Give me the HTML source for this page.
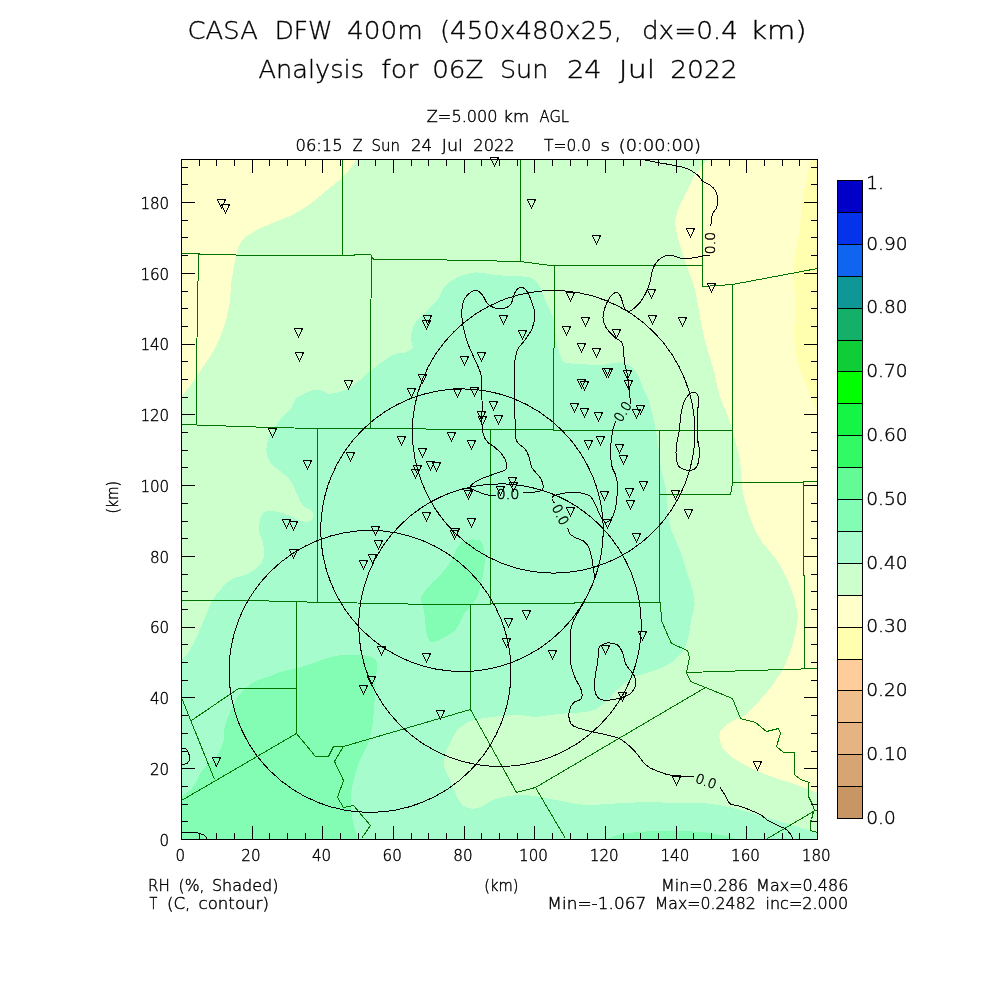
<!DOCTYPE html><html><head><meta charset="utf-8"><title>CASA DFW 400m Analysis</title>
<style>html,body{margin:0;padding:0;background:#fff}svg{display:block}text{font-family:"DejaVu Sans","Liberation Sans",sans-serif;font-weight:200;fill:#000}.s{font-size:15.1px;stroke:#000;stroke-width:.4px}.t{font-size:25.4px;stroke:#000;stroke-width:.35px}.c{font-size:14.5px;stroke:#000;stroke-width:.45px}</style></head><body>
<svg width="1000" height="1000" viewBox="0 0 1000 1000" shape-rendering="crispEdges">
<rect width="1000" height="1000" fill="#fff"/>
<defs><clipPath id="m"><rect x="181.5" y="159.5" width="636.0" height="680.0"/></clipPath></defs>
<g clip-path="url(#m)">
<rect x="181.5" y="159.5" width="636.0" height="680.0" fill="#FFFFCC"/>
<path d="M815.0,150.0C811.2,154.2 809.6,166.7 807.5,175.0C805.4,183.3 803.8,191.7 802.5,200.0C801.2,208.3 800.8,217.9 800.0,225.0C799.2,232.1 798.4,237.1 797.5,242.5C796.6,247.9 795.1,252.1 794.5,257.5C793.9,262.9 793.7,267.9 793.8,275.0C793.8,282.1 794.9,291.7 795.0,300.0C795.1,308.3 794.5,316.7 794.5,325.0C794.5,333.3 794.1,342.5 795.0,350.0C795.9,357.5 797.9,363.8 800.0,370.0C802.1,376.2 805.4,382.5 807.5,387.5C809.6,392.5 810.8,395.9 812.5,400.0C814.2,404.1 815.1,410.0 818.0,412.0C820.9,414.0 828.0,455.7 830.0,412.0C832.0,368.3 832.5,193.7 830.0,150.0C827.5,106.3 818.8,145.8 815.0,150.0Z" fill="#FFFFAF"/>
<path d="M357.0,159.0C353.7,163.5 349.5,170.2 345.0,175.0C340.5,179.8 335.8,182.7 330.0,187.5C324.2,192.3 316.7,199.2 310.0,204.0C303.3,208.8 296.7,212.7 290.0,216.0C283.3,219.3 276.2,221.2 270.0,224.0C263.8,226.8 257.1,229.8 252.5,232.5C247.9,235.2 245.0,237.1 242.5,240.0C240.0,242.9 239.0,245.4 237.5,250.0C236.0,254.6 234.8,261.7 233.8,267.5C232.7,273.3 231.6,279.6 231.0,285.0C230.4,290.4 230.8,294.2 230.0,300.0C229.2,305.8 227.7,313.8 226.0,320.0C224.3,326.2 222.2,332.1 220.0,337.5C217.8,342.9 215.4,347.5 212.5,352.5C209.6,357.5 205.8,362.5 202.5,367.5C199.2,372.5 196.1,377.6 192.5,382.5C188.9,387.4 186.4,390.8 181.0,397.0C175.6,403.2 163.5,342.8 160.0,420.0C156.5,497.2 46.7,786.7 160.0,860.0C273.3,933.3 726.7,870.0 840.0,860.0C953.3,850.0 843.8,811.2 840.0,800.0C836.2,788.8 822.4,794.4 817.0,792.5C811.6,790.6 812.0,790.4 807.5,788.8C803.0,787.1 796.2,784.6 790.0,782.5C783.8,780.4 776.7,778.8 770.0,776.2C763.3,773.8 756.2,770.6 750.0,767.5C743.8,764.4 737.1,760.8 732.5,757.5C727.9,754.2 724.7,750.8 722.5,747.5C720.3,744.2 719.7,740.4 719.5,737.5C719.3,734.6 719.5,732.5 721.2,730.0C723.0,727.5 726.0,725.0 730.0,722.5C734.0,720.0 740.0,718.8 745.0,715.0C750.0,711.2 755.4,705.0 760.0,700.0C764.6,695.0 768.8,690.0 772.5,685.0C776.2,680.0 779.6,675.4 782.5,670.0C785.4,664.6 787.9,658.3 790.0,652.5C792.1,646.7 793.8,640.4 795.0,635.0C796.2,629.6 797.1,623.8 797.5,620.0C797.9,616.2 798.3,617.1 797.5,612.5C796.7,607.9 794.6,598.8 792.5,592.5C790.4,586.2 787.9,580.8 785.0,575.0C782.1,569.2 778.8,562.9 775.0,557.5C771.2,552.1 766.0,547.5 762.5,542.5C759.0,537.5 756.2,532.9 753.8,527.5C751.2,522.1 749.4,516.2 747.5,510.0C745.6,503.8 743.5,495.8 742.5,490.0C741.5,484.2 741.7,480.0 741.2,475.0C740.8,470.0 740.8,465.0 740.0,460.0C739.2,455.0 737.5,450.0 736.2,445.0C735.0,440.0 734.0,435.0 732.5,430.0C731.0,425.0 729.4,420.0 727.5,415.0C725.6,410.0 722.9,404.6 721.2,400.0C719.6,395.4 718.8,392.5 717.5,387.5C716.2,382.5 715.4,376.2 713.8,370.0C712.1,363.8 709.4,356.7 707.5,350.0C705.6,343.3 704.0,336.7 702.5,330.0C701.0,323.3 700.0,316.7 698.8,310.0C697.5,303.3 696.5,295.8 695.0,290.0C693.5,284.2 691.7,280.0 690.0,275.0C688.3,270.0 686.7,265.0 685.0,260.0C683.3,255.0 681.5,250.0 680.0,245.0C678.5,240.0 676.7,234.6 676.0,230.0C675.3,225.4 675.1,221.7 675.8,217.5C676.4,213.3 678.0,209.6 680.0,205.0C682.0,200.4 685.0,195.0 687.5,190.0C690.0,185.0 692.5,179.2 695.0,175.0C697.5,170.8 700.2,167.7 702.5,165.0C704.8,162.3 706.5,161.8 708.8,159.0C711.0,156.2 744.1,151.2 716.0,148.0C687.9,144.8 598.5,140.0 540.0,140.0C481.5,140.0 395.5,144.8 365.0,148.0C334.5,151.2 360.3,154.5 357.0,159.0Z" fill="#CCFFCC"/>
<path d="M181.0,661.0C186.0,656.0 187.2,654.3 190.0,650.0C192.8,645.7 195.0,640.4 197.5,635.0C200.0,629.6 202.5,623.3 205.0,617.5C207.5,611.7 209.6,605.0 212.5,600.0C215.4,595.0 219.2,591.0 222.5,587.5C225.8,584.0 228.8,580.8 232.5,578.8C236.2,576.7 240.8,576.9 245.0,575.0C249.2,573.1 254.4,570.4 257.5,567.5C260.6,564.6 262.8,561.7 263.8,557.5C264.7,553.3 263.7,546.7 263.0,542.5C262.3,538.3 260.0,536.2 259.5,532.5C259.0,528.8 259.1,523.5 260.0,520.0C260.9,516.5 262.1,513.1 265.0,511.8C267.9,510.4 273.3,511.0 277.5,511.8C281.7,512.5 286.2,514.5 290.0,516.0C293.8,517.5 296.7,520.2 300.0,521.0C303.3,521.8 307.7,522.0 310.0,521.0C312.3,520.0 313.6,516.8 313.8,515.0C313.9,513.2 312.9,511.7 311.0,510.0C309.1,508.3 304.8,507.5 302.5,505.0C300.2,502.5 299.6,499.2 297.5,495.0C295.4,490.8 292.9,484.0 290.0,480.0C287.1,476.0 283.3,473.9 280.0,471.0C276.7,468.1 272.3,466.0 270.0,462.5C267.7,459.0 266.2,454.6 266.2,450.0C266.2,445.4 267.7,440.0 270.0,435.0C272.3,430.0 276.7,424.2 280.0,420.0C283.3,415.8 287.5,413.3 290.0,410.0C292.5,406.7 293.3,402.3 295.0,400.0C296.7,397.7 297.5,397.5 300.0,396.0C302.5,394.5 306.7,392.0 310.0,391.0C313.3,390.0 316.7,389.5 320.0,390.0C323.3,390.5 325.8,393.8 330.0,393.8C334.2,393.8 340.0,392.3 345.0,390.0C350.0,387.7 355.8,383.2 360.0,380.0C364.2,376.8 365.8,374.3 370.0,371.0C374.2,367.7 380.8,362.9 385.0,360.0C389.2,357.1 391.7,355.0 395.0,353.8C398.3,352.5 402.1,353.5 405.0,352.5C407.9,351.5 411.5,349.6 412.5,347.5C413.5,345.4 411.1,342.9 411.0,340.0C410.9,337.1 411.2,333.0 412.0,330.0C412.8,327.0 413.8,324.9 416.0,322.0C418.2,319.1 421.4,316.2 425.0,312.5C428.6,308.8 434.2,304.4 437.5,300.0C440.8,295.6 441.7,289.8 445.0,286.0C448.3,282.2 452.5,279.8 457.5,277.5C462.5,275.2 468.8,272.9 475.0,272.5C481.2,272.1 489.2,274.4 495.0,275.0C500.8,275.6 504.2,275.6 510.0,276.0C515.8,276.4 525.2,276.0 530.0,277.5C534.8,279.0 536.2,281.2 538.8,285.0C541.2,288.8 543.1,295.8 545.0,300.0C546.9,304.2 548.4,306.2 550.0,310.0C551.6,313.8 553.5,317.5 554.5,322.5C555.5,327.5 555.1,334.6 556.0,340.0C556.9,345.4 558.5,351.2 560.0,355.0C561.5,358.8 561.7,361.0 565.0,362.5C568.3,364.0 574.2,363.3 580.0,363.8C585.8,364.2 593.3,365.2 600.0,365.0C606.7,364.8 614.6,362.1 620.0,362.5C625.4,362.9 629.2,364.6 632.5,367.5C635.8,370.4 638.1,376.2 640.0,380.0C641.9,383.8 642.4,387.0 643.8,390.0C645.1,393.0 646.5,393.8 648.0,398.0C649.5,402.2 651.1,409.2 652.5,415.0C653.9,420.8 655.2,426.7 656.2,432.5C657.3,438.3 657.9,443.8 658.8,450.0C659.6,456.2 660.0,463.3 661.2,470.0C662.5,476.7 665.2,483.3 666.2,490.0C667.3,496.7 666.7,503.3 667.5,510.0C668.3,516.7 669.2,523.3 671.2,530.0C673.3,536.7 677.5,543.3 680.0,550.0C682.5,556.7 684.2,563.3 686.2,570.0C688.3,576.7 691.1,584.2 692.5,590.0C693.9,595.8 694.7,600.0 694.5,605.0C694.3,610.0 692.2,615.0 691.2,620.0C690.3,625.0 689.8,630.4 688.8,635.0C687.7,639.6 686.9,643.8 685.0,647.5C683.1,651.2 680.8,654.4 677.5,657.5C674.2,660.6 669.9,663.8 665.0,666.2C660.1,668.8 653.3,670.6 648.0,672.5C642.7,674.4 638.0,674.8 633.0,677.5C628.0,680.2 623.0,684.6 618.0,689.0C613.0,693.4 607.7,700.3 603.0,704.0C598.3,707.7 595.5,709.8 590.0,711.2C584.5,712.8 576.7,712.4 570.0,713.0C563.3,713.6 555.8,714.3 550.0,715.0C544.2,715.7 540.0,717.0 535.0,717.0C530.0,717.0 525.8,715.1 520.0,715.0C514.2,714.9 506.7,715.6 500.0,716.2C493.3,716.9 485.4,717.7 480.0,718.8C474.6,719.8 471.2,720.6 467.5,722.5C463.8,724.4 460.4,726.7 457.5,730.0C454.6,733.3 452.1,738.3 450.0,742.5C447.9,746.7 445.9,750.8 445.0,755.0C444.1,759.2 443.7,763.3 444.5,767.5C445.3,771.7 448.0,775.4 450.0,780.0C452.0,784.6 454.2,790.8 456.2,795.0C458.3,799.2 459.8,802.7 462.5,805.0C465.2,807.3 469.2,808.5 472.5,808.8C475.8,809.0 479.2,807.7 482.5,806.2C485.8,804.8 488.3,801.7 492.5,800.0C496.7,798.3 502.1,797.1 507.5,796.2C512.9,795.4 519.2,794.8 525.0,795.0C530.8,795.2 536.2,796.5 542.5,797.5C548.8,798.5 555.4,800.0 562.5,801.2C569.6,802.5 577.1,804.6 585.0,805.0C592.9,805.4 601.7,804.2 610.0,803.8C618.3,803.3 626.2,802.7 635.0,802.5C643.8,802.3 651.7,802.4 662.5,802.5C673.3,802.6 689.6,802.4 700.0,803.0C710.4,803.6 716.7,804.7 725.0,806.2C733.3,807.8 741.7,810.2 750.0,812.5C758.3,814.8 766.7,817.5 775.0,820.0C783.3,822.5 793.0,825.4 800.0,827.5C807.0,829.6 810.3,830.8 817.0,832.5C823.7,834.2 836.2,833.4 840.0,838.0C843.8,842.6 953.3,856.3 840.0,860.0C726.7,863.7 273.3,890.0 160.0,860.0C46.7,830.0 156.5,713.2 160.0,680.0C163.5,646.8 176.0,666.0 181.0,661.0Z" fill="#A6FCCC"/>
<path d="M466.2,540.0C469.4,539.4 476.0,539.2 478.8,540.0C481.5,540.8 482.0,541.7 483.0,545.0C484.0,548.3 485.1,554.6 485.0,560.0C484.9,565.4 483.5,572.1 482.5,577.5C481.5,582.9 480.2,588.3 478.8,592.5C477.3,596.7 476.0,599.2 473.8,602.5C471.5,605.8 467.5,608.8 465.0,612.5C462.5,616.2 460.8,621.7 458.8,625.0C456.7,628.3 455.4,630.2 452.5,632.5C449.6,634.8 444.4,637.2 441.2,638.8C438.1,640.3 435.8,641.7 433.8,641.9C431.7,642.1 430.0,641.8 428.8,640.0C427.5,638.2 426.9,634.8 426.2,631.2C425.6,627.7 425.5,622.9 425.0,618.8C424.5,614.6 423.7,609.4 423.0,606.2C422.3,603.1 420.5,602.3 420.6,600.0C420.7,597.7 421.8,595.4 423.8,592.5C425.7,589.6 429.4,585.8 432.5,582.5C435.6,579.2 439.6,575.8 442.5,572.5C445.4,569.2 447.9,565.8 450.0,562.5C452.1,559.2 453.3,555.6 455.0,552.5C456.7,549.4 458.1,545.8 460.0,543.8C461.9,541.7 463.1,540.6 466.2,540.0Z" fill="#82FDB3"/>
<path d="M181.0,797.0C186.4,792.4 188.9,792.0 192.5,787.5C196.1,783.0 198.3,775.4 202.5,770.0C206.7,764.6 214.0,760.0 217.5,755.0C221.0,750.0 222.5,745.0 223.8,740.0C225.0,735.0 223.8,730.0 225.0,725.0C226.2,720.0 229.2,714.6 231.2,710.0C233.3,705.4 235.2,701.0 237.5,697.5C239.8,694.0 242.1,691.5 245.0,688.8C247.9,686.0 250.8,683.3 255.0,681.2C259.2,679.2 265.4,677.9 270.0,676.2C274.6,674.6 277.5,672.7 282.5,671.2C287.5,669.8 294.6,669.0 300.0,667.5C305.4,666.0 310.0,664.2 315.0,662.5C320.0,660.8 325.0,658.2 330.0,657.0C335.0,655.8 340.0,655.3 345.0,655.0C350.0,654.7 355.4,654.6 360.0,655.0C364.6,655.4 369.7,655.8 372.5,657.5C375.3,659.2 376.5,660.8 377.0,665.0C377.5,669.2 375.9,676.2 375.5,682.5C375.1,688.8 375.0,695.4 374.5,702.5C374.0,709.6 373.7,717.9 372.5,725.0C371.3,732.1 369.6,739.2 367.5,745.0C365.4,750.8 362.1,755.0 360.0,760.0C357.9,765.0 356.5,769.6 355.0,775.0C353.5,780.4 351.9,786.7 351.2,792.5C350.6,798.3 350.8,804.6 351.2,810.0C351.7,815.4 352.7,820.1 353.8,825.0C354.8,829.9 356.5,833.7 357.5,839.5C358.5,845.3 392.9,856.6 360.0,860.0C327.1,863.4 193.3,867.5 160.0,860.0C126.7,852.5 156.5,825.5 160.0,815.0C163.5,804.5 175.6,801.6 181.0,797.0Z" fill="#82FDB3"/>
<path d="M608.0,838.5C612.8,836.9 615.9,834.8 625.0,833.5C634.1,832.2 650.0,831.0 662.5,830.8C675.0,830.5 690.4,831.3 700.0,832.0C709.6,832.7 714.2,833.8 720.0,835.0C725.8,836.2 731.7,835.3 735.0,839.5C738.3,843.7 764.2,856.6 740.0,860.0C715.8,863.4 614.0,862.8 590.0,860.0C566.0,857.2 593.0,846.6 596.0,843.0C599.0,839.4 603.2,840.1 608.0,838.5Z" fill="#82FDB3"/>
<g fill="none" stroke="#007200" stroke-width="1">
<path d="M342.5,159.5 L342.5,255.5"/>
<path d="M181.5,253.5 L198.5,253.5 L200.5,254.5 L271.5,255.5 L353.5,255.5 L355.5,254.5 L370.5,254.5 L372.5,257.5 L373.5,259.5 L420.5,259.5 L472.5,260.5 L520.5,261.5 L550.5,265.5 L554.5,265.5 L650.5,265.5 L702.5,265.5"/>
<path d="M198.5,253.5 L197.5,310.5 L196.5,367.5 L196.5,424.5"/>
<path d="M371.5,257.5 L370.5,342.5 L370.5,428.5"/>
<path d="M520.5,159.5 L520.5,261.5"/>
<path d="M554.5,265.5 L554.5,347.5 L553.5,348.5 L553.5,430.5"/>
<path d="M702.5,159.5 L702.5,286.5 L732.5,284.5 L817.5,268.5"/>
<path d="M732.5,284.5 L732.5,482.5"/>
<path d="M181.5,424.5 L270.5,427.5 L317.5,428.5 L370.5,428.5 L420.5,428.5 L430.5,429.5 L431.5,429.5 L490.5,429.5 L553.5,429.5 L554.5,430.5 L659.5,430.5 L732.5,430.5"/>
<path d="M317.5,428.5 L317.5,602.5"/>
<path d="M181.5,600.5 L240.5,600.5 L296.5,601.5 L317.5,602.5 L395.5,603.5 L420.5,604.5 L470.5,604.5 L490.5,604.5 L490.5,603.5 L574.5,603.5 L574.5,602.5 L659.5,602.5"/>
<path d="M296.5,601.5 L296.5,733.5"/>
<path d="M490.5,429.5 L490.5,603.5"/>
<path d="M470.5,604.5 L470.5,709.5"/>
<path d="M659.5,430.5 L659.5,602.5 L660.5,602.5 L661.5,620.5 L666.5,632.5 L671.5,643.5 L687.5,650.5 L689.5,657.5 L686.5,672.5 L690.5,681.5 L705.5,687.5 L732.5,698.5 L740.5,718.5 L755.5,722.5 L766.5,731.5 L778.5,728.5 L780.5,733.5 L776.5,746.5 L783.5,752.5 L794.5,752.5 L794.5,774.5 L800.5,779.5 L809.5,782.5 L808.5,783.5 L808.5,796.5 L812.5,804.5 L814.5,810.5 L817.5,810.5"/>
<path d="M659.5,494.5 L730.5,494.5 L731.5,490.5 L732.5,482.5"/>
<path d="M732.5,482.5 L802.5,482.5 L803.5,481.5 L817.5,481.5"/>
<path d="M803.5,481.5 L803.5,575.5 L804.5,575.5 L804.5,668.5"/>
<path d="M686.5,672.5 L817.5,668.5"/>
<path d="M535.5,787.5 L705.5,687.5"/>
<path d="M470.5,709.5 L516.5,792.5 L535.5,787.5 L565.5,838.5"/>
<path d="M470.5,709.5 L343.5,746.5"/>
<path d="M296.5,733.5 L315.5,756.5 L328.5,756.5 L333.5,746.5 L343.5,746.5 L334.5,761.5 L343.5,780.5 L337.5,797.5 L343.5,807.5 L353.5,805.5 L370.5,825.5 L361.5,838.5"/>
<path d="M296.5,688.5 L238.5,688.5 L191.5,720.5"/>
<path d="M181.5,697.5 L214.5,779.5"/>
<path d="M296.5,733.5 L181.5,800.5"/>
<path d="M813.5,811.5 L767.5,838.5"/>
<path d="M813.5,811.5 L811.5,819.5 L810.5,821.5 L810.5,830.5 L817.5,832.5"/>
</g>
<g fill="none" stroke="#000" stroke-width="1">
<circle cx="553.7" cy="431.8" r="141.3"/>
<circle cx="462" cy="530.2" r="141.3"/>
<circle cx="500" cy="625.2" r="141.3"/>
<circle cx="370" cy="671.4" r="141.0"/>
<path d="M495.6,495.5C494.5,495.5 491.1,495.7 488.8,495.2C486.4,494.8 483.8,493.9 481.2,493.0C478.8,492.1 475.6,490.9 473.8,490.0C471.9,489.1 470.0,488.7 470.0,487.5C470.0,486.3 471.9,484.5 473.8,483.0C475.6,481.5 477.7,480.3 481.2,478.8C484.8,477.2 490.9,475.3 495.0,473.8C499.1,472.2 503.7,471.3 505.6,469.4C507.5,467.5 506.8,464.9 506.2,462.5C505.7,460.1 504.4,457.5 502.5,455.0C500.6,452.5 497.5,449.7 495.0,447.5C492.5,445.3 489.4,444.1 487.5,442.0C485.6,439.9 484.4,437.8 483.5,435.0C482.6,432.2 482.2,430.8 482.0,425.0C481.8,419.2 482.2,408.3 482.0,400.0C481.8,391.7 482.2,381.7 481.0,375.0C479.8,368.3 477.2,365.4 475.0,360.0C472.8,354.6 469.6,348.8 467.5,342.5C465.4,336.2 463.3,328.8 462.5,322.5C461.7,316.2 461.7,309.6 462.5,305.0C463.3,300.4 465.2,297.4 467.5,295.0C469.8,292.6 473.5,290.5 476.0,290.5C478.5,290.5 480.6,292.8 482.5,295.0C484.4,297.2 485.4,301.6 487.5,303.8C489.6,305.9 492.1,307.3 495.0,308.0C497.9,308.7 502.3,308.7 505.0,308.0C507.7,307.3 509.3,306.3 511.0,303.8C512.7,301.2 513.5,295.2 515.0,292.5C516.5,289.8 518.2,287.9 520.0,287.5C521.8,287.1 524.2,287.9 526.0,290.0C527.8,292.1 529.6,296.2 531.0,300.0C532.4,303.8 534.2,307.9 534.5,312.5C534.8,317.1 534.1,322.9 532.5,327.5C530.9,332.1 527.5,336.2 525.0,340.0C522.5,343.8 519.2,345.8 517.5,350.0C515.8,354.2 515.0,356.7 514.5,365.0C514.0,373.3 514.4,391.0 514.5,400.0C514.6,409.0 514.8,412.5 515.0,418.8C515.2,425.0 515.0,433.3 515.6,437.5C516.2,441.7 517.2,441.8 518.8,443.8C520.3,445.7 523.3,446.9 525.0,449.0C526.7,451.1 527.6,453.2 528.8,456.2C529.9,459.3 529.8,463.6 531.9,467.5C534.0,471.4 539.5,475.8 541.2,479.4C543.0,483.0 543.8,487.3 542.5,489.4C541.2,491.5 537.0,491.7 533.8,492.2C530.5,492.8 524.8,492.5 523.0,492.5"/>
<path d="M554.4,503.0C554.0,502.2 551.7,499.3 551.9,498.0C552.1,496.7 552.8,495.9 555.6,495.0C558.4,494.1 564.7,492.9 568.8,492.5C572.8,492.1 576.5,492.1 580.0,492.8C583.5,493.4 587.5,494.4 590.0,496.2C592.5,498.1 593.3,500.6 595.0,503.8C596.7,506.9 598.3,512.0 600.0,515.0C601.7,518.0 603.1,521.4 605.0,522.0C606.9,522.6 609.6,520.8 611.2,518.8C612.9,516.8 614.1,513.5 615.0,510.0C615.9,506.5 616.5,501.7 616.9,497.5C617.3,493.3 617.7,488.8 617.5,485.0C617.3,481.2 616.5,478.1 615.6,475.0C614.7,471.9 612.7,470.4 611.9,466.2C611.1,462.1 610.5,455.8 610.6,450.0C610.7,444.2 611.7,436.0 612.5,431.2C613.3,426.5 615.1,422.9 615.6,421.2"/>
<path d="M630.6,403.8C630.5,402.7 630.5,402.3 630.0,397.5C629.5,392.7 628.4,380.8 627.5,375.0C626.6,369.2 625.3,367.7 624.5,362.5C623.7,357.3 624.1,347.9 622.5,343.8C620.9,339.6 617.8,340.2 615.0,337.5C612.2,334.8 608.0,330.8 606.0,327.5C604.0,324.2 603.2,320.8 603.0,317.5C602.8,314.2 603.7,311.1 605.0,307.5C606.3,303.9 608.9,298.5 611.0,296.0C613.1,293.5 615.8,292.2 617.5,292.5C619.2,292.8 619.8,294.8 621.0,297.5C622.2,300.2 623.5,306.5 625.0,308.8C626.5,311.0 627.5,312.0 630.0,311.0C632.5,310.0 637.3,305.6 640.0,302.5C642.7,299.4 644.3,295.8 646.0,292.5C647.7,289.2 648.9,286.2 650.0,282.5C651.1,278.8 651.2,273.6 652.5,270.0C653.8,266.4 655.4,263.3 657.5,261.0C659.6,258.7 662.5,256.9 665.0,256.0C667.5,255.1 670.0,255.2 672.5,255.5C675.0,255.8 676.7,257.6 680.0,258.0C683.3,258.4 688.8,258.3 692.5,258.0C696.2,257.7 699.6,256.5 702.5,256.0C705.4,255.5 708.8,255.2 710.0,255.0"/>
<path d="M710.8,226.0C711.0,224.0 711.6,216.6 712.5,213.8C713.4,210.9 715.1,211.0 716.0,208.8C716.9,206.5 718.1,203.0 718.0,200.0C717.9,197.0 716.8,193.5 715.5,191.0C714.2,188.5 712.2,186.7 710.0,185.0C707.8,183.3 704.6,182.7 702.5,181.0C700.4,179.3 700.0,177.0 697.5,175.0C695.0,173.0 691.2,170.3 687.5,168.8C683.8,167.2 680.0,166.5 675.0,165.5C670.0,164.5 662.5,163.4 657.5,162.5C652.5,161.6 648.6,160.9 645.0,160.0C641.4,159.1 637.5,157.5 636.0,157.0"/>
<path d="M567.5,528.0C567.9,529.0 568.8,532.2 570.0,533.8C571.2,535.3 572.7,536.2 575.0,537.5C577.3,538.8 581.5,539.6 583.8,541.2C586.0,542.9 587.4,544.6 588.8,547.5C590.1,550.4 591.1,555.0 591.9,558.8C592.7,562.5 593.1,566.7 593.5,570.0C593.9,573.3 594.8,575.8 594.4,578.8C594.0,581.7 592.8,584.0 591.2,587.5C589.7,591.0 587.1,596.0 585.0,600.0C582.9,604.0 580.6,607.9 578.8,611.2C576.9,614.6 575.0,617.3 573.8,620.0C572.5,622.7 571.8,624.6 571.2,627.5C570.7,630.4 570.4,631.7 570.2,637.5C570.1,643.3 569.7,655.8 570.5,662.5C571.3,669.2 573.2,672.9 575.0,677.5C576.8,682.1 580.2,686.5 581.2,690.0C582.3,693.5 582.5,696.7 581.2,698.8C580.0,700.8 575.7,700.6 573.8,702.5C571.8,704.4 570.2,707.1 569.5,710.0C568.8,712.9 568.8,717.3 569.5,720.0C570.2,722.7 570.3,724.4 573.8,726.2C577.2,728.1 584.8,729.9 590.0,731.2C595.2,732.6 599.8,733.1 605.0,734.5C610.2,735.9 616.2,736.8 621.0,739.5C625.8,742.2 629.8,746.2 634.0,750.5C638.2,754.8 642.1,761.5 646.0,765.0C649.9,768.5 653.1,769.5 657.5,771.2C661.9,773.0 666.5,774.7 672.5,775.5C678.5,776.3 690.2,776.1 693.8,776.2"/>
<path d="M720.0,787.5C720.8,788.8 723.3,792.3 725.0,795.0C726.7,797.7 727.5,801.9 730.0,803.8C732.5,805.6 735.0,804.5 740.0,806.2C745.0,808.0 755.5,812.2 760.0,814.5C764.5,816.8 763.9,818.0 767.2,820.0C770.5,822.0 776.8,824.8 780.0,826.4C783.2,828.0 784.4,827.9 786.4,829.6C788.4,831.3 791.0,834.7 792.0,836.8C793.0,838.9 792.2,841.1 792.3,842.0"/>
<path d="M693.6,392.0C692.3,392.2 690.3,393.5 688.8,394.8C687.3,396.1 685.9,397.9 684.8,400.0C683.7,402.1 683.1,404.7 682.4,407.2C681.7,409.7 681.2,412.5 680.8,415.2C680.4,417.9 680.3,420.5 680.0,423.2C679.7,425.9 679.8,427.3 679.2,431.2C678.6,435.1 676.9,441.9 676.4,446.4C675.9,450.9 675.9,454.7 676.3,458.0C676.7,461.3 677.1,464.2 678.8,466.2C680.4,468.2 683.5,469.6 686.2,470.0C689.0,470.4 692.9,470.4 695.0,468.8C697.1,467.1 698.1,464.4 698.8,460.0C699.4,455.6 699.0,445.7 698.8,442.4C698.6,439.1 697.7,445.4 697.5,440.0C697.3,434.6 697.2,415.5 697.4,410.0C697.6,404.5 698.6,409.1 698.8,407.0C699.0,404.9 698.8,399.4 698.4,397.2C698.0,394.9 697.3,394.4 696.5,393.5C695.7,392.6 694.9,391.8 693.6,392.0Z"/>
<path d="M600.0,646.2C601.5,645.1 604.6,643.2 607.5,643.0C610.4,642.8 615.0,643.4 617.5,645.0C620.0,646.6 621.0,649.2 622.5,652.5C624.0,655.8 624.4,661.2 626.2,665.0C628.1,668.8 632.2,671.7 633.8,675.0C635.3,678.3 636.1,681.9 635.5,685.0C634.9,688.1 633.0,691.5 630.0,693.8C627.0,696.0 622.1,697.7 617.5,698.8C612.9,699.8 606.0,700.6 602.5,700.0C599.0,699.4 597.6,697.9 596.2,695.0C594.9,692.1 594.3,687.9 594.5,682.5C594.7,677.1 596.8,667.9 597.5,662.5C598.2,657.1 598.3,652.7 598.8,650.0C599.2,647.3 598.5,647.4 600.0,646.2Z"/>
<path d="M181.0,747.8C181.9,748.1 185.1,748.0 186.5,749.5C187.9,751.0 189.3,754.2 189.5,756.5C189.7,758.8 188.9,761.6 187.5,763.0C186.1,764.4 182.1,764.7 181.0,765.0"/>
<path d="M181.0,832.5C183.3,832.5 191.2,832.1 195.0,832.5C198.8,832.9 201.7,833.8 203.8,835.0C205.8,836.2 206.9,838.8 207.5,839.5"/>
</g>
</g>
<g fill="none" stroke="#000" stroke-width="1" stroke-linejoin="bevel">
<path d="M217.5,199.5h8l-4.0,9zM221.5,204.5h8l-4.0,9zM294.5,328.5h8l-4.0,9zM295.5,352.5h8l-4.0,9zM344.5,380.5h8l-4.0,9zM490.5,157.5h8l-4.0,9zM527.5,199.5h8l-4.0,9zM592.5,235.5h8l-4.0,9zM566.5,292.5h8l-4.0,9zM423.5,315.5h8l-4.0,9zM422.5,320.5h8l-4.0,9zM499.5,315.5h8l-4.0,9zM581.5,317.5h8l-4.0,9zM562.5,326.5h8l-4.0,9zM612.5,329.5h8l-4.0,9zM518.5,330.5h8l-4.0,9zM577.5,343.5h8l-4.0,9zM592.5,348.5h8l-4.0,9zM477.5,352.5h8l-4.0,9zM460.5,356.5h8l-4.0,9zM604.5,368.5h8l-4.0,9zM602.5,368.5h8l-4.0,9zM623.5,370.5h8l-4.0,9zM418.5,374.5h8l-4.0,9zM577.5,379.5h8l-4.0,9zM580.5,381.5h8l-4.0,9zM624.5,380.5h8l-4.0,9zM407.5,388.5h8l-4.0,9zM453.5,388.5h8l-4.0,9zM470.5,387.5h8l-4.0,9zM686.5,228.5h8l-4.0,9zM707.5,283.5h8l-4.0,9zM647.5,289.5h8l-4.0,9zM648.5,315.5h8l-4.0,9zM678.5,317.5h8l-4.0,9zM268.5,428.5h8l-4.0,9zM397.5,436.5h8l-4.0,9zM346.5,452.5h8l-4.0,9zM303.5,460.5h8l-4.0,9zM282.5,519.5h8l-4.0,9zM289.5,521.5h8l-4.0,9zM371.5,526.5h8l-4.0,9zM374.5,540.5h8l-4.0,9zM289.5,549.5h8l-4.0,9zM368.5,554.5h8l-4.0,9zM359.5,560.5h8l-4.0,9zM377.5,646.5h8l-4.0,9zM489.5,401.5h8l-4.0,9zM477.5,411.5h8l-4.0,9zM478.5,416.5h8l-4.0,9zM494.5,415.5h8l-4.0,9zM447.5,432.5h8l-4.0,9zM467.5,440.5h8l-4.0,9zM418.5,448.5h8l-4.0,9zM426.5,461.5h8l-4.0,9zM432.5,462.5h8l-4.0,9zM413.5,465.5h8l-4.0,9zM411.5,469.5h8l-4.0,9zM463.5,488.5h8l-4.0,9zM464.5,490.5h8l-4.0,9zM508.5,477.5h8l-4.0,9zM509.5,482.5h8l-4.0,9zM496.5,486.5h8l-4.0,9zM422.5,512.5h8l-4.0,9zM467.5,518.5h8l-4.0,9zM570.5,403.5h8l-4.0,9zM580.5,408.5h8l-4.0,9zM594.5,412.5h8l-4.0,9zM636.5,405.5h8l-4.0,9zM632.5,409.5h8l-4.0,9zM596.5,436.5h8l-4.0,9zM584.5,440.5h8l-4.0,9zM615.5,444.5h8l-4.0,9zM619.5,455.5h8l-4.0,9zM639.5,481.5h8l-4.0,9zM625.5,488.5h8l-4.0,9zM600.5,491.5h8l-4.0,9zM626.5,500.5h8l-4.0,9zM566.5,507.5h8l-4.0,9zM603.5,519.5h8l-4.0,9zM451.5,528.5h8l-4.0,9zM450.5,530.5h8l-4.0,9zM504.5,618.5h8l-4.0,9zM502.5,638.5h8l-4.0,9zM632.5,533.5h8l-4.0,9zM522.5,610.5h8l-4.0,9zM638.5,631.5h8l-4.0,9zM601.5,645.5h8l-4.0,9zM671.5,490.5h8l-4.0,9zM684.5,509.5h8l-4.0,9zM367.5,676.5h8l-4.0,9zM359.5,685.5h8l-4.0,9zM212.5,757.5h8l-4.0,9zM422.5,653.5h8l-4.0,9zM548.5,650.5h8l-4.0,9zM618.5,692.5h8l-4.0,9zM436.5,710.5h8l-4.0,9zM753.5,761.5h8l-4.0,9zM672.5,776.5h8l-4.0,9z"/>
</g>
<text class="c" style="font-size:14.5px" x="508" y="494.3" text-anchor="middle" transform="rotate(0 508 494.3)" dy="4.8">0.0</text>
<text class="c" style="font-size:13.3px" x="560.3" y="514.8" text-anchor="middle" transform="rotate(63 560.3 514.8)" dy="4.4">0.0</text>
<text class="c" style="font-size:13.3px" x="623" y="411.8" text-anchor="middle" transform="rotate(-58 623 411.8)" dy="4.4">0.0</text>
<text class="c" style="font-size:14px" x="710.5" y="243" text-anchor="middle" transform="rotate(-90 710.5 243)" dy="4.6">0.0</text>
<text class="c" style="font-size:13.3px" x="706" y="781.5" text-anchor="middle" transform="rotate(20 706 781.5)" dy="4.4">0.0</text>
<g fill="none" stroke="#000" stroke-width="1">
<rect x="181.5" y="159.5" width="636.0" height="680.0"/>
</g>
<path d="M199.2,839.5v-6.5M199.2,159.5v6.5M216.8,839.5v-6.5M216.8,159.5v6.5M234.5,839.5v-6.5M234.5,159.5v6.5M252.2,839.5v-13.5M252.2,159.5v13.5M269.8,839.5v-6.5M269.8,159.5v6.5M287.5,839.5v-6.5M287.5,159.5v6.5M305.2,839.5v-6.5M305.2,159.5v6.5M322.8,839.5v-13.5M322.8,159.5v13.5M340.5,839.5v-6.5M340.5,159.5v6.5M358.2,839.5v-6.5M358.2,159.5v6.5M375.8,839.5v-6.5M375.8,159.5v6.5M393.5,839.5v-13.5M393.5,159.5v13.5M411.2,839.5v-6.5M411.2,159.5v6.5M428.8,839.5v-6.5M428.8,159.5v6.5M446.5,839.5v-6.5M446.5,159.5v6.5M464.2,839.5v-13.5M464.2,159.5v13.5M481.8,839.5v-6.5M481.8,159.5v6.5M499.5,839.5v-6.5M499.5,159.5v6.5M517.2,839.5v-6.5M517.2,159.5v6.5M534.8,839.5v-13.5M534.8,159.5v13.5M552.5,839.5v-6.5M552.5,159.5v6.5M570.2,839.5v-6.5M570.2,159.5v6.5M587.8,839.5v-6.5M587.8,159.5v6.5M605.5,839.5v-13.5M605.5,159.5v13.5M623.2,839.5v-6.5M623.2,159.5v6.5M640.8,839.5v-6.5M640.8,159.5v6.5M658.5,839.5v-6.5M658.5,159.5v6.5M676.2,839.5v-13.5M676.2,159.5v13.5M693.8,839.5v-6.5M693.8,159.5v6.5M711.5,839.5v-6.5M711.5,159.5v6.5M729.2,839.5v-6.5M729.2,159.5v6.5M746.8,839.5v-13.5M746.8,159.5v13.5M764.5,839.5v-6.5M764.5,159.5v6.5M782.2,839.5v-6.5M782.2,159.5v6.5M799.8,839.5v-6.5M799.8,159.5v6.5M181.5,821.8h6.5M817.5,821.8h-6.5M181.5,804.1h6.5M817.5,804.1h-6.5M181.5,786.4h6.5M817.5,786.4h-6.5M181.5,768.7h13.5M817.5,768.7h-13.5M181.5,751.0h6.5M817.5,751.0h-6.5M181.5,733.3h6.5M817.5,733.3h-6.5M181.5,715.6h6.5M817.5,715.6h-6.5M181.5,697.9h13.5M817.5,697.9h-13.5M181.5,680.2h6.5M817.5,680.2h-6.5M181.5,662.6h6.5M817.5,662.6h-6.5M181.5,644.9h6.5M817.5,644.9h-6.5M181.5,627.2h13.5M817.5,627.2h-13.5M181.5,609.5h6.5M817.5,609.5h-6.5M181.5,591.8h6.5M817.5,591.8h-6.5M181.5,574.1h6.5M817.5,574.1h-6.5M181.5,556.4h13.5M817.5,556.4h-13.5M181.5,538.7h6.5M817.5,538.7h-6.5M181.5,521.0h6.5M817.5,521.0h-6.5M181.5,503.3h6.5M817.5,503.3h-6.5M181.5,485.6h13.5M817.5,485.6h-13.5M181.5,467.9h6.5M817.5,467.9h-6.5M181.5,450.2h6.5M817.5,450.2h-6.5M181.5,432.5h6.5M817.5,432.5h-6.5M181.5,414.8h13.5M817.5,414.8h-13.5M181.5,397.1h6.5M817.5,397.1h-6.5M181.5,379.4h6.5M817.5,379.4h-6.5M181.5,361.8h6.5M817.5,361.8h-6.5M181.5,344.1h13.5M817.5,344.1h-13.5M181.5,326.4h6.5M817.5,326.4h-6.5M181.5,308.7h6.5M817.5,308.7h-6.5M181.5,291.0h6.5M817.5,291.0h-6.5M181.5,273.3h13.5M817.5,273.3h-13.5M181.5,255.6h6.5M817.5,255.6h-6.5M181.5,237.9h6.5M817.5,237.9h-6.5M181.5,220.2h6.5M817.5,220.2h-6.5M181.5,202.5h13.5M817.5,202.5h-13.5M181.5,184.8h6.5M817.5,184.8h-6.5M181.5,167.1h6.5M817.5,167.1h-6.5" stroke="#000" stroke-width="1" fill="none"/>
<text class="s" x="180.2" y="860.6" text-anchor="middle">0</text>
<text class="s" x="250.9" y="860.6" text-anchor="middle">20</text>
<text class="s" x="321.5" y="860.6" text-anchor="middle">40</text>
<text class="s" x="392.2" y="860.6" text-anchor="middle">60</text>
<text class="s" x="462.9" y="860.6" text-anchor="middle">80</text>
<text class="s" x="533.5" y="860.6" text-anchor="middle">100</text>
<text class="s" x="604.2" y="860.6" text-anchor="middle">120</text>
<text class="s" x="674.9" y="860.6" text-anchor="middle">140</text>
<text class="s" x="745.5" y="860.6" text-anchor="middle">160</text>
<text class="s" x="816.2" y="860.6" text-anchor="middle">180</text>
<text class="s" x="169.2" y="845.7" text-anchor="end">0</text>
<text class="s" x="169.2" y="774.9" text-anchor="end">20</text>
<text class="s" x="169.2" y="704.1" text-anchor="end">40</text>
<text class="s" x="169.2" y="633.4" text-anchor="end">60</text>
<text class="s" x="169.2" y="562.6" text-anchor="end">80</text>
<text class="s" x="169.2" y="491.8" text-anchor="end">100</text>
<text class="s" x="169.2" y="421.0" text-anchor="end">120</text>
<text class="s" x="169.2" y="350.3" text-anchor="end">140</text>
<text class="s" x="169.2" y="279.5" text-anchor="end">160</text>
<text class="s" x="169.2" y="208.7" text-anchor="end">180</text>
<rect x="837.5" y="786.60" width="25.0" height="31.90" fill="#C89664" stroke="#000" stroke-width="1"/>
<rect x="837.5" y="754.70" width="25.0" height="31.90" fill="#D7A573" stroke="#000" stroke-width="1"/>
<rect x="837.5" y="722.80" width="25.0" height="31.90" fill="#E6B482" stroke="#000" stroke-width="1"/>
<rect x="837.5" y="690.90" width="25.0" height="31.90" fill="#F0C08C" stroke="#000" stroke-width="1"/>
<rect x="837.5" y="659.00" width="25.0" height="31.90" fill="#FFCD9B" stroke="#000" stroke-width="1"/>
<rect x="837.5" y="627.10" width="25.0" height="31.90" fill="#FFFFAF" stroke="#000" stroke-width="1"/>
<rect x="837.5" y="595.20" width="25.0" height="31.90" fill="#FFFFCC" stroke="#000" stroke-width="1"/>
<rect x="837.5" y="563.30" width="25.0" height="31.90" fill="#CCFFCC" stroke="#000" stroke-width="1"/>
<rect x="837.5" y="531.40" width="25.0" height="31.90" fill="#A6FCCC" stroke="#000" stroke-width="1"/>
<rect x="837.5" y="499.50" width="25.0" height="31.90" fill="#82FDB3" stroke="#000" stroke-width="1"/>
<rect x="837.5" y="467.60" width="25.0" height="31.90" fill="#64FA96" stroke="#000" stroke-width="1"/>
<rect x="837.5" y="435.70" width="25.0" height="31.90" fill="#32FA64" stroke="#000" stroke-width="1"/>
<rect x="837.5" y="403.80" width="25.0" height="31.90" fill="#14F546" stroke="#000" stroke-width="1"/>
<rect x="837.5" y="371.90" width="25.0" height="31.90" fill="#00FF00" stroke="#000" stroke-width="1"/>
<rect x="837.5" y="340.00" width="25.0" height="31.90" fill="#0FCD37" stroke="#000" stroke-width="1"/>
<rect x="837.5" y="308.10" width="25.0" height="31.90" fill="#14AF69" stroke="#000" stroke-width="1"/>
<rect x="837.5" y="276.20" width="25.0" height="31.90" fill="#0F9696" stroke="#000" stroke-width="1"/>
<rect x="837.5" y="244.30" width="25.0" height="31.90" fill="#0F64F0" stroke="#000" stroke-width="1"/>
<rect x="837.5" y="212.40" width="25.0" height="31.90" fill="#0532EB" stroke="#000" stroke-width="1"/>
<rect x="837.5" y="180.50" width="25.0" height="31.90" fill="#0000C8" stroke="#000" stroke-width="1"/>
<text class="s" style="font-size:17.6px" transform="translate(866.2,823.7) scale(1.055,1)">0.0</text>
<text class="s" style="font-size:17.6px" transform="translate(866.2,759.9) scale(1.055,1)">0.10</text>
<text class="s" style="font-size:17.6px" transform="translate(866.2,696.1) scale(1.055,1)">0.20</text>
<text class="s" style="font-size:17.6px" transform="translate(866.2,632.3) scale(1.055,1)">0.30</text>
<text class="s" style="font-size:17.6px" transform="translate(866.2,568.5) scale(1.055,1)">0.40</text>
<text class="s" style="font-size:17.6px" transform="translate(866.2,504.7) scale(1.055,1)">0.50</text>
<text class="s" style="font-size:17.6px" transform="translate(866.2,440.9) scale(1.055,1)">0.60</text>
<text class="s" style="font-size:17.6px" transform="translate(866.2,377.1) scale(1.055,1)">0.70</text>
<text class="s" style="font-size:17.6px" transform="translate(866.2,313.3) scale(1.055,1)">0.80</text>
<text class="s" style="font-size:17.6px" transform="translate(866.2,249.5) scale(1.055,1)">0.90</text>
<text class="s" style="font-size:17.6px" transform="translate(866.2,188.8) scale(1.055,1)">1.</text>
<text class="t" transform="translate(187.56,38.8) scale(1.0179,1)">CASA</text>
<text class="t" transform="translate(274.67,38.8) scale(0.9778,1)">DFW</text>
<text class="t" transform="translate(346.96,38.8) scale(1.0371,1)">400m</text>
<text class="t" transform="translate(439.94,38.8) scale(1.0279,1)">(450x480x25,</text>
<text class="t" transform="translate(641.93,38.8) scale(1.0337,1)">dx=0.4</text>
<text class="t" transform="translate(750.22,38.8) scale(1.1442,1)">km)</text>
<text class="t" transform="translate(258.40,78.2) scale(1.0097,1)">Analysis</text>
<text class="t" transform="translate(381.14,78.2) scale(1.0647,1)">for</text>
<text class="t" transform="translate(432.14,78.2) scale(1.0298,1)">06Z</text>
<text class="t" transform="translate(500.00,78.2) scale(1.0000,1)">Sun</text>
<text class="t" transform="translate(566.93,78.2) scale(1.0667,1)">24</text>
<text class="t" transform="translate(618.80,78.2) scale(1.1857,1)">Jul</text>
<text class="t" transform="translate(670.15,78.2) scale(1.0452,1)">2022</text>
<text class="s" transform="translate(426.80,122) scale(1.0708,1)">Z=5.000</text>
<text class="s" transform="translate(503.30,122) scale(1.1000,1)">km</text>
<text class="s" transform="translate(539.60,122) scale(0.9767,1)">AGL</text>
<text class="s" transform="translate(295.52,150.6) scale(1.0829,1)">06:15</text>
<text class="s" transform="translate(352.70,150.6) scale(0.9500,1)">Z</text>
<text class="s" transform="translate(371.51,150.6) scale(0.9926,1)">Sun</text>
<text class="s" transform="translate(411.00,150.6) scale(1.1000,1)">24</text>
<text class="s" transform="translate(441.80,150.6) scale(1.1647,1)">Jul</text>
<text class="s" transform="translate(473.32,150.6) scale(1.0778,1)">2022</text>
<text class="s" transform="translate(544.00,150.6) scale(1.0267,1)">T=0.0</text>
<text class="s" transform="translate(600.38,150.6) scale(1.2167,1)">s</text>
<text class="s" transform="translate(618.73,150.6) scale(1.1750,1)">(0:00:00)</text>
<text class="s" transform="translate(148.00,890.7) scale(1.0000,1)">RH</text>
<text class="s" transform="translate(178.56,890.7) scale(1.0364,1)">(%,</text>
<text class="s" transform="translate(211.94,890.7) scale(1.0590,1)">Shaded)</text>
<text class="s" transform="translate(149.40,909.3) scale(0.8444,1)">T</text>
<text class="s" transform="translate(166.89,909.3) scale(1.1053,1)">(C,</text>
<text class="s" transform="translate(198.50,909.3) scale(1.1032,1)">contour)</text>
<text class="s" transform="translate(484.23,890.7) scale(0.9697,1)">(km)</text>
<text class="s" transform="translate(661.10,890.7) scale(1.0525,1)">Min=0.286</text>
<text class="s" transform="translate(756.08,890.7) scale(1.0595,1)">Max=0.486</text>
<text class="s" transform="translate(547.36,909.2) scale(1.1224,1)">Min=-1.067</text>
<text class="s" transform="translate(654.71,909.2) scale(1.0447,1)">Max=0.2482</text>
<text class="s" transform="translate(765.54,909.2) scale(1.0605,1)">inc=2.000</text>
<text class="s" text-anchor="middle" transform="translate(118,497.3) rotate(-90) scale(0.92,1)">(km)</text>
</svg></body></html>
